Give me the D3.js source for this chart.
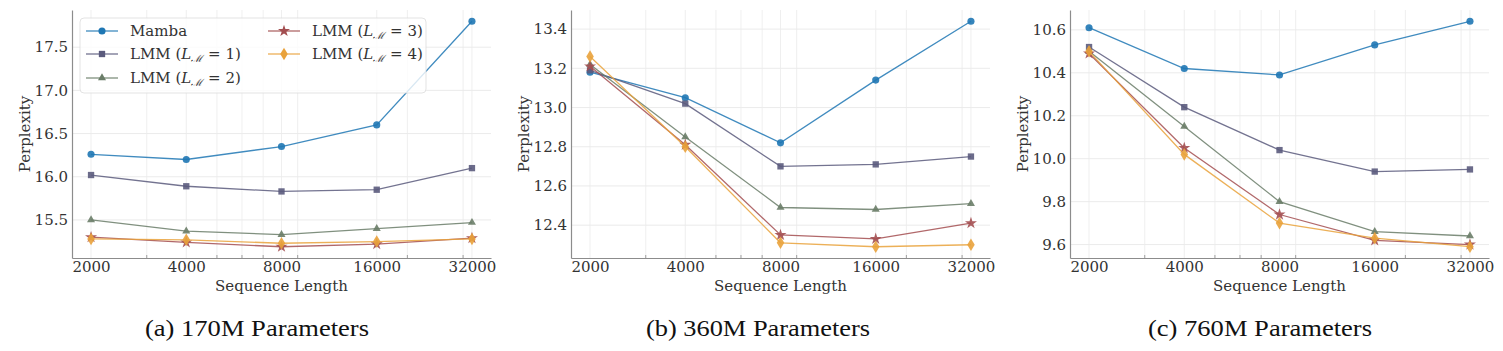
<!DOCTYPE html>
<html>
<head>
<meta charset="utf-8">
<script src="https://cdn.jsdelivr.net/npm/d3@7"></script>
<style>
  body { margin: 0; background: #fff; }
  svg text { font-family: "DejaVu Serif", serif; }
</style>
</head>
<body>
<svg id="chart" width="1503" height="351"></svg>
<script>
// sequence lengths on the x axis
const seqLengths = [2000, 4000, 8000, 16000, 32000];
const minorTicks = [3000, 5000, 6000, 7000, 9000, 20000, 30000];

const seriesNames = ['Mamba', 'LMM1', 'LMM2', 'LMM3', 'LMM4'];

// perplexity, 170M
const ppl170 = {
  Mamba: [16.26, 16.20, 16.35, 16.60, 17.80],
  LMM1: [16.02, 15.89, 15.83, 15.85, 16.10],
  LMM2: [15.50, 15.37, 15.33, 15.40, 15.47],
  LMM3: [15.30, 15.24, 15.19, 15.22, 15.29],
  LMM4: [15.28, 15.27, 15.23, 15.25, 15.28]
};
// perplexity, 360M
const ppl360 = {
  Mamba: [13.18, 13.05, 12.82, 13.14, 13.44],
  LMM1: [13.19, 13.02, 12.70, 12.71, 12.75],
  LMM2: [13.22, 12.85, 12.49, 12.48, 12.51],
  LMM3: [13.21, 12.81, 12.35, 12.33, 12.41],
  LMM4: [13.26, 12.80, 12.31, 12.29, 12.30]
};
// perplexity, 760M
const ppl760 = {
  Mamba: [10.61, 10.42, 10.39, 10.53, 10.64],
  LMM1: [10.52, 10.24, 10.04, 9.94, 9.95],
  LMM2: [10.50, 10.15, 9.80, 9.66, 9.64],
  LMM3: [10.49, 10.05, 9.74, 9.62, 9.60],
  LMM4: [10.50, 10.02, 9.70, 9.63, 9.59]
};

const yTicks170 = [15.5, 16.0, 16.5, 17.0, 17.5];
const yTicks360 = [12.4, 12.6, 12.8, 13.0, 13.2, 13.4];
const yTicks760 = [9.6, 9.8, 10.0, 10.2, 10.4, 10.6];

const captions = ['(a) 170M Parameters', '(b) 360M Parameters', '(c) 760M Parameters'];

const colors = {
  Mamba: '#1f77b4',
  LMM1: '#5b5b7d',
  LMM2: '#6a7d68',
  LMM3: '#a34e50',
  LMM4: '#e9a23b'
};

// thin diamond like matplotlib 'd'
const thinDiamond = {
  draw(ctx, size) {
    const h = Math.sqrt(size) * 0.75;
    const w = h * 0.6;
    ctx.moveTo(0, -h);
    ctx.lineTo(w, 0);
    ctx.lineTo(0, h);
    ctx.lineTo(-w, 0);
    ctx.closePath();
  }
};

const markers = {
  Mamba: d3.symbol(d3.symbolCircle, 40),
  LMM1: d3.symbol(d3.symbolSquare, 40),
  LMM2: d3.symbol(d3.symbolTriangle, 28),
  LMM3: d3.symbol(d3.symbolStar, 45),
  LMM4: d3.symbol(thinDiamond, 70)
};

const svg = d3.select('#chart');

const panels = [
  { data: ppl170, ticks: yTicks170, left: 72, right: 491, cap: 257 },
  { data: ppl360, ticks: yTicks360, left: 571, right: 990, cap: 758 },
  { data: ppl760, ticks: yTicks760, left: 1070, right: 1489, cap: 1260 }
];
const plotTop = 10, plotBottom = 258;

panels.forEach((p, i) => {
  const g = svg.append('g');

  // x: log scale with 5% padding like matplotlib
  const lx0 = Math.log10(seqLengths[0]), lx1 = Math.log10(seqLengths[seqLengths.length - 1]);
  const padX = (lx1 - lx0) * 0.05;
  const xScale = d3.scaleLog()
    .domain([Math.pow(10, lx0 - padX), Math.pow(10, lx1 + padX)])
    .range([p.left, p.right]);

  const allVals = seriesNames.flatMap(s => p.data[s]);
  const ymin = d3.min(allVals), ymax = d3.max(allVals);
  const padY = (ymax - ymin) * 0.05;
  const yScale = d3.scaleLinear()
    .domain([ymin - padY, ymax + padY])
    .range([plotBottom, plotTop]);

  // grid
  g.selectAll('.hgrid').data(p.ticks).join('line')
    .attr('x1', p.left).attr('x2', p.right)
    .attr('y1', d => yScale(d)).attr('y2', d => yScale(d))
    .attr('stroke', '#e6e6e6').attr('stroke-width', 0.8);
  g.selectAll('.vgrid').data(seqLengths.concat(minorTicks)).join('line')
    .attr('x1', d => xScale(d)).attr('x2', d => xScale(d))
    .attr('y1', plotTop).attr('y2', plotBottom)
    .attr('stroke', '#ebebeb').attr('stroke-width', 0.8);

  // axes
  const xAxis = d3.axisBottom(xScale)
    .tickValues(seqLengths)
    .tickFormat(d3.format('d'))
    .tickSize(0)
    .tickPadding(3);
  const xAxisG = g.append('g')
    .attr('transform', `translate(0,${plotBottom})`)
    .call(xAxis);
  xAxisG.select('.domain').attr('stroke', '#8c8c8c').attr('stroke-width', 1.2);
  xAxisG.selectAll('text').attr('fill', '#333').style('font-size', '15px')
    .style('font-family', '"DejaVu Serif", serif');

  g.selectAll('.minor').data(minorTicks).join('line')
    .attr('x1', d => xScale(d)).attr('x2', d => xScale(d))
    .attr('y1', plotBottom).attr('y2', plotBottom - 3)
    .attr('stroke', '#8c8c8c').attr('stroke-width', 0.8);

  const yAxis = d3.axisLeft(yScale)
    .tickValues(p.ticks)
    .tickFormat(d3.format('.1f'))
    .tickSize(0)
    .tickPadding(4);
  const yAxisG = g.append('g')
    .attr('transform', `translate(${p.left},0)`)
    .call(yAxis);
  yAxisG.select('.domain').attr('stroke', '#8c8c8c').attr('stroke-width', 1.2);
  yAxisG.selectAll('text').attr('fill', '#333').style('font-size', '15px')
    .style('font-family', '"DejaVu Serif", serif');

  // labels
  g.append('text')
    .attr('x', (p.left + p.right) / 2)
    .attr('y', 291)
    .attr('text-anchor', 'middle')
    .attr('fill', '#333')
    .style('font-size', '15px')
    .text('Sequence Length');

  g.append('text')
    .attr('transform', `translate(${p.left - 42},${(plotTop + plotBottom) / 2}) rotate(-90)`)
    .attr('text-anchor', 'middle')
    .attr('fill', '#333')
    .style('font-size', '15px')
    .text('Perplexity');

  // lines and markers
  const line = d3.line()
    .x((d, j) => xScale(seqLengths[j]))
    .y(d => yScale(d));

  seriesNames.forEach(s => {
    g.append('path')
      .datum(p.data[s])
      .attr('d', line)
      .attr('fill', 'none')
      .attr('stroke', colors[s])
      .attr('stroke-width', 1.3)
      .attr('opacity', 0.85);
    g.selectAll('.pt-' + s).data(p.data[s]).join('path')
      .attr('transform', (d, j) => `translate(${xScale(seqLengths[j])},${yScale(d)})`)
      .attr('d', markers[s]())
      .attr('fill', colors[s])
      .attr('fill-opacity', 0.9);
  });

  // caption
  svg.append('text')
    .attr('x', p.cap)
    .attr('y', 336)
    .attr('text-anchor', 'middle')
    .attr('fill', '#111')
    .style('font-family', '"Liberation Serif", serif')
    .style('font-size', '24px')
    .attr('textLength', 224)
    .attr('lengthAdjust', 'spacingAndGlyphs')
    .text(captions[i]);
});

// legend in first panel
const legend = svg.append('g');
legend.append('rect')
  .attr('x', 80).attr('y', 18)
  .attr('width', 346).attr('height', 75)
  .attr('rx', 4)
  .attr('fill', '#fff').attr('fill-opacity', 0.8)
  .attr('stroke', '#dcdcdc').attr('stroke-width', 0.8);

const legendItems = [
  { s: 'Mamba', col: 0, row: 0 },
  { s: 'LMM1', col: 0, row: 1, n: 1 },
  { s: 'LMM2', col: 0, row: 2, n: 2 },
  { s: 'LMM3', col: 1, row: 0, n: 3 },
  { s: 'LMM4', col: 1, row: 1, n: 4 }
];
const colX = [86, 268], rowY = [31, 54, 78];

legendItems.forEach(it => {
  const x = colX[it.col], y = rowY[it.row];
  legend.append('line')
    .attr('x1', x).attr('x2', x + 32)
    .attr('y1', y).attr('y2', y)
    .attr('stroke', colors[it.s]).attr('stroke-width', 1.3).attr('opacity', 0.85);
  legend.append('path')
    .attr('transform', `translate(${x + 16},${y})`)
    .attr('d', markers[it.s]())
    .attr('fill', colors[it.s]);
  const t = legend.append('text')
    .attr('x', x + 44).attr('y', y + 5)
    .attr('fill', '#333')
    .style('font-size', '15px');
  if (it.s === 'Mamba') {
    t.text('Mamba');
  } else {
    t.append('tspan').text('LMM (');
    t.append('tspan').style('font-style', 'italic').text('L');
    t.append('tspan').attr('dy', 3).style('font-size', '10px').style('font-style', 'italic').text('ℳ');
    t.append('tspan').attr('dy', -3).text(' = ' + it.n + ')');
  }
});
</script>
</body>
</html>
